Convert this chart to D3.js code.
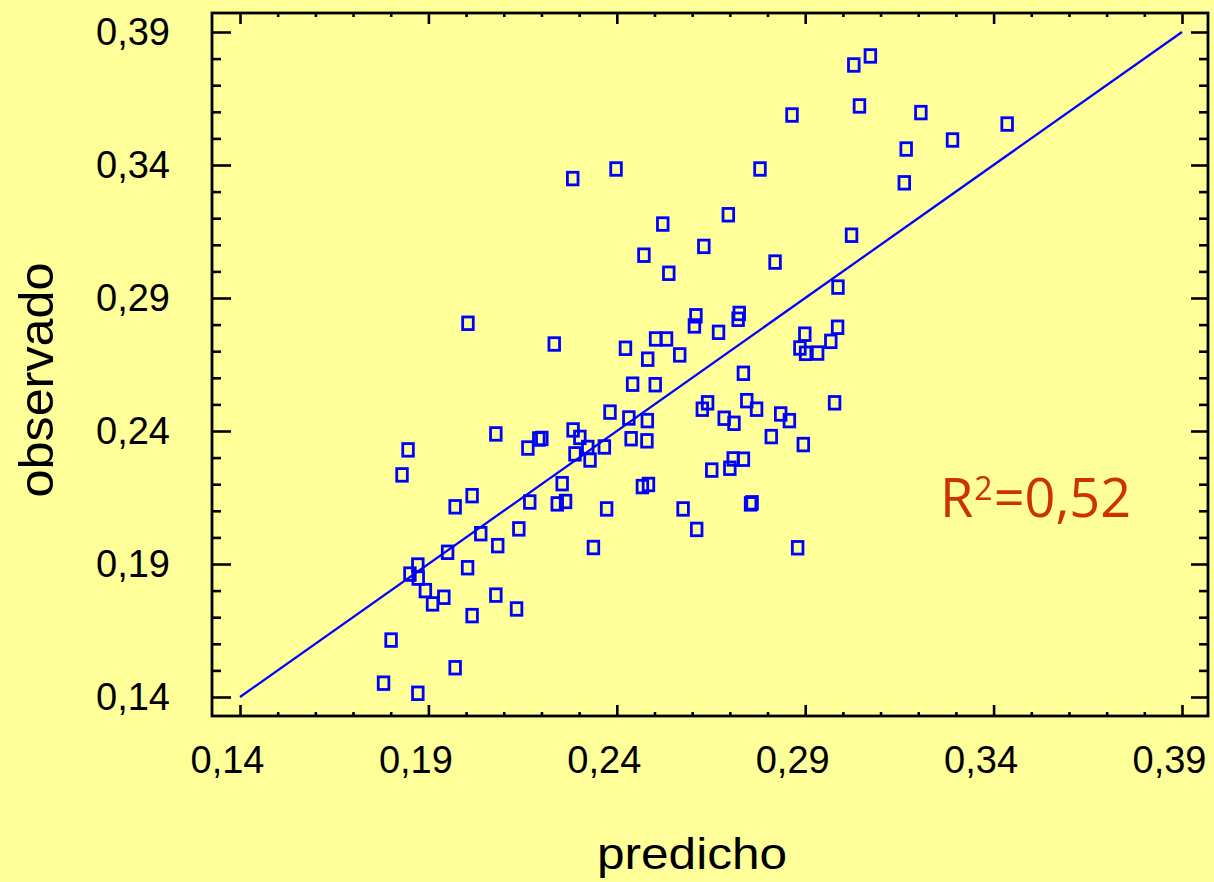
<!DOCTYPE html>
<html>
<head>
<meta charset="utf-8">
<script src="https://cdn.jsdelivr.net/npm/d3@7"></script>
<style>
  html, body { margin: 0; padding: 0; background: #FFFF99; }
  svg { display: block; }
</style>
</head>
<body>
<svg id="chart" width="1214" height="882"></svg>
<script>
// ---- data ----
const predicho = [
  0.2382,0.2432,0.2481,0.2079,0.2193,0.2201,0.2164,0.2284,0.2302,0.2323,
  0.2289,0.2329,0.2367,0.2438,0.2480,0.1846,0.1830,0.2016,0.1971,0.2169,
  0.2255,0.2242,0.2264,0.2373,0.2468,0.2484,0.2039,0.2140,0.2084,0.2338,
  0.1951,0.1872,0.1851,0.1873,0.2004,0.1892,0.1941,0.1911,0.2079,0.2134,
  0.2016,0.1801,0.1971,0.1781,0.1872,0.2283,0.2398,0.2780,0.2696,0.2522,
  0.2631,0.2472,0.2538,0.2820,0.2987,0.2610,0.2606,0.2725,0.2722,0.2670,
  0.2234,0.2423,0.2503,0.2532,0.2482,0.2567,0.2899,0.2886,0.2901,0.2933,
  0.2968,0.2986,0.2736,0.2442,0.2502,0.2641,0.2627,0.2745,0.2771,0.2685,
  0.2711,0.2835,0.2858,0.2978,0.2810,0.2895,0.2709,0.2736,0.2700,0.2652,
  0.2759,0.2755,0.2576,0.2612,0.2880,0.3073,0.3029,0.3044,0.2865,0.3207,
  0.3436,0.3291,0.3168,0.3163,0.3023,0.2005
];
const observado = [
  0.2471,0.2449,0.2439,0.2389,0.2370,0.2372,0.2336,0.2404,0.2376,0.2338,
  0.2314,0.2291,0.2340,0.2371,0.2363,0.2329,0.2235,0.2157,0.2115,0.2133,
  0.2202,0.2126,0.2135,0.2107,0.2191,0.2199,0.2014,0.2032,0.1969,0.1962,
  0.1944,0.1896,0.1862,0.1847,0.1886,0.1800,0.1775,0.1750,0.1783,0.1731,
  0.1706,0.1614,0.1510,0.1452,0.1414,0.3349,0.3385,0.3385,0.3213,0.3178,
  0.3094,0.3061,0.2993,0.3035,0.2941,0.2833,0.2795,0.2842,0.2820,0.2771,
  0.2727,0.2711,0.2746,0.2746,0.2670,0.2686,0.2764,0.2712,0.2692,0.2693,
  0.2737,0.2790,0.2617,0.2576,0.2574,0.2506,0.2482,0.2514,0.2482,0.2448,
  0.2429,0.2464,0.2439,0.2506,0.2379,0.2349,0.2295,0.2294,0.2260,0.2253,
  0.2130,0.2126,0.2107,0.2030,0.1961,0.3810,0.3776,0.3622,0.3588,0.3597,
  0.3554,0.3494,0.3460,0.3333,0.3136,0.2805
];
const fitLineX = [0.14, 0.39];
const fitLineY = [0.14, 0.39];
const majorTicks = [0.14, 0.19, 0.24, 0.29, 0.34, 0.39];
const tickLabels = ["0,14", "0,19", "0,24", "0,29", "0,34", "0,39"];
const minorTicks = d3.range(0, 26).map(i => +(0.14 + i * 0.01).toFixed(2));
const xTitle = "predicho";
const yTitle = "observado";
const r2Label = { base: "R", sup: "2", rest: "=0,52" };

// ---- layout ----
const frame = { left: 212, right: 1208, top: 13, bottom: 716 };
const svg = d3.select("#chart");
svg.append("rect").attr("width", 1214).attr("height", 882).attr("fill", "#FFFF99");

const x = d3.scaleLinear().domain([0.14, 0.39]).range([240, 1182]);
const y = d3.scaleLinear().domain([0.14, 0.39]).range([697, 32]);
const fmt = v => tickLabels[majorTicks.findIndex(t => Math.abs(t - v) < 1e-6)];

const axisFont = "'Liberation Sans', Arial, sans-serif";

function styleAxis(g) {
  g.select(".domain").remove();
  g.selectAll(".tick line").attr("stroke", "#000").attr("stroke-width", 2.6);
  g.selectAll("text").attr("fill", "#000").attr("font-family", axisFont).attr("font-size", 38);
}

// minor ticks (no labels)
const minorOnly = minorTicks.filter(v => !majorTicks.some(t => Math.abs(t - v) < 1e-6));
svg.append("g").attr("transform", `translate(${frame.left},0)`)
  .call(d3.axisLeft(y).tickValues(minorOnly).tickSize(-9).tickFormat(""))
  .call(styleAxis);
svg.append("g").attr("transform", `translate(${frame.right},0)`)
  .call(d3.axisRight(y).tickValues(minorOnly).tickSize(-9).tickFormat(""))
  .call(styleAxis);
svg.append("g").attr("transform", `translate(0,${frame.bottom})`)
  .call(d3.axisBottom(x).tickValues(minorOnly).tickSize(-4).tickFormat(""))
  .call(styleAxis);
svg.append("g").attr("transform", `translate(0,${frame.top})`)
  .call(d3.axisTop(x).tickValues(minorOnly).tickSize(-4).tickFormat(""))
  .call(styleAxis);

// major ticks
svg.append("g").attr("transform", `translate(${frame.left},0)`)
  .call(d3.axisLeft(y).tickValues(majorTicks).tickSize(-19).tickPadding(42).tickFormat(fmt))
  .call(styleAxis);
svg.append("g").attr("transform", `translate(${frame.right},0)`)
  .call(d3.axisRight(y).tickValues(majorTicks).tickSize(-17).tickFormat(""))
  .call(styleAxis);
const xb = svg.append("g").attr("transform", `translate(0,${frame.bottom})`)
  .call(d3.axisBottom(x).tickValues(majorTicks).tickSize(-11).tickPadding(30).tickFormat(fmt))
  .call(styleAxis);
xb.selectAll("text").attr("dx", -13);
svg.append("g").attr("transform", `translate(0,${frame.top})`)
  .call(d3.axisTop(x).tickValues(majorTicks).tickSize(-11).tickFormat(""))
  .call(styleAxis);

// frame
svg.append("rect")
  .attr("x", frame.left).attr("y", frame.top)
  .attr("width", frame.right - frame.left).attr("height", frame.bottom - frame.top)
  .attr("fill", "none").attr("stroke", "#000").attr("stroke-width", 2.8);

// fitted line
svg.append("line")
  .attr("x1", x(fitLineX[0])).attr("y1", y(fitLineY[0]))
  .attr("x2", x(fitLineX[1])).attr("y2", y(fitLineY[1]))
  .attr("stroke", "#0000FF").attr("stroke-width", 2.3);

// points
const pts = predicho.map((p, i) => ({ p, o: observado[i] }));
const mw = 10.6, mh = 12.6;
svg.append("g").selectAll("rect").data(pts).join("rect")
  .attr("x", d => x(d.p) - mw / 2)
  .attr("y", d => y(d.o) - mh / 2)
  .attr("width", mw).attr("height", mh)
  .attr("fill", "none").attr("stroke", "#0000FF").attr("stroke-width", 2.8);

// axis titles
svg.append("text")
  .attr("x", 692).attr("y", 869)
  .attr("text-anchor", "middle")
  .attr("font-family", axisFont).attr("font-size", 44)
  .attr("textLength", 190).attr("lengthAdjust", "spacingAndGlyphs")
  .attr("fill", "#000").text(xTitle);

svg.append("text")
  .attr("transform", "translate(53,380) rotate(-90)")
  .attr("text-anchor", "middle")
  .attr("font-family", axisFont).attr("font-size", 48)
  .attr("textLength", 235).attr("lengthAdjust", "spacingAndGlyphs")
  .attr("fill", "#000").text(yTitle);

// R² annotation
const r2 = svg.append("text")
  .attr("x", 940).attr("y", 517)
  .attr("font-family", "'Open Sans', 'Noto Sans', sans-serif")
  .attr("font-size", 54).attr("fill", "#CC3300");
r2.append("tspan").text(r2Label.base);
r2.append("tspan").attr("font-size", 32).attr("dy", -17).attr("dx", 1).text(r2Label.sup);
r2.append("tspan").attr("dy", 17).attr("dx", 1).text(r2Label.rest);
</script>
</body>
</html>
